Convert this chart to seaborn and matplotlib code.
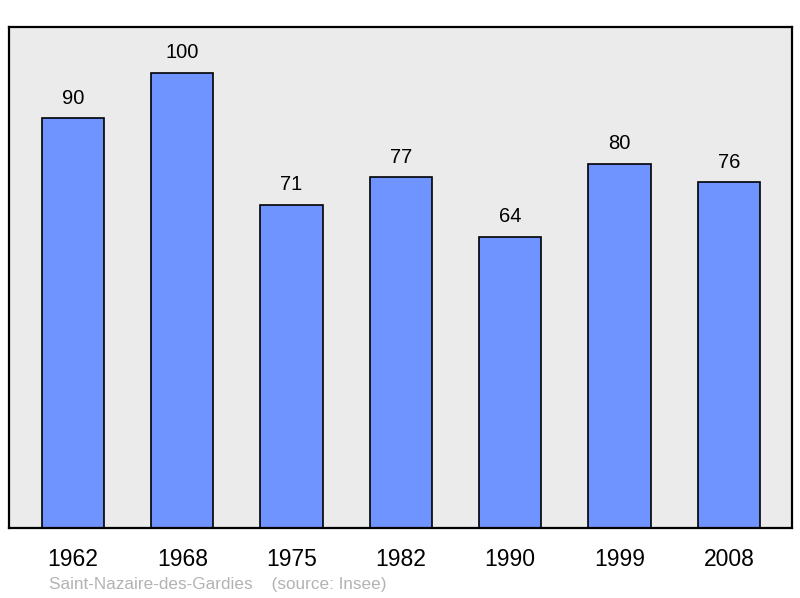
import matplotlib
matplotlib.use("Agg")
import matplotlib.pyplot as plt
import seaborn as sns
import pandas as pd

years = ["1962", "1968", "1975", "1982", "1990", "1999", "2008"]
population = [90, 100, 71, 77, 64, 80, 76]
source_text = "Saint-Nazaire-des-Gardies    (source: Insee)"

sns.set_style("white")
plt.rcParams["font.family"] = ["Liberation Sans", "DejaVu Sans"]

df = pd.DataFrame({"year": years, "pop": population})

fig = plt.figure(figsize=(8, 5.98), dpi=100)
ax = fig.add_axes([0.0113, 0.117, 0.979, 0.8375])
ax.set_facecolor("#ebebeb")

sns.barplot(data=df, x="year", y="pop", color="#7094ff", saturation=1,
            width=0.57, edgecolor="black", linewidth=1.2, ax=ax)

# value labels above each bar
for i, v in enumerate(population):
    ax.annotate(str(v), (i, v), xytext=(0, 14.3), textcoords="offset points",
                ha="center", va="center", fontsize=14.5, color="black")

ax.set_ylim(0, 110)
ax.set_xlim(-0.585, 6.58)
ax.set_yticks([])
ax.set_xlabel("")
ax.set_ylabel("")
ax.tick_params(axis="x", length=0, pad=14.5, labelsize=16.5, colors="black")
for s in ax.spines.values():
    s.set_visible(True)
    s.set_color("black")
    s.set_linewidth(1.6)

fig.text(49 / 800, 1 - 584 / 598, source_text, ha="left", va="center",
         fontsize=12.3, color="#b3b3b3")

fig.savefig("out.png", dpi=100)
